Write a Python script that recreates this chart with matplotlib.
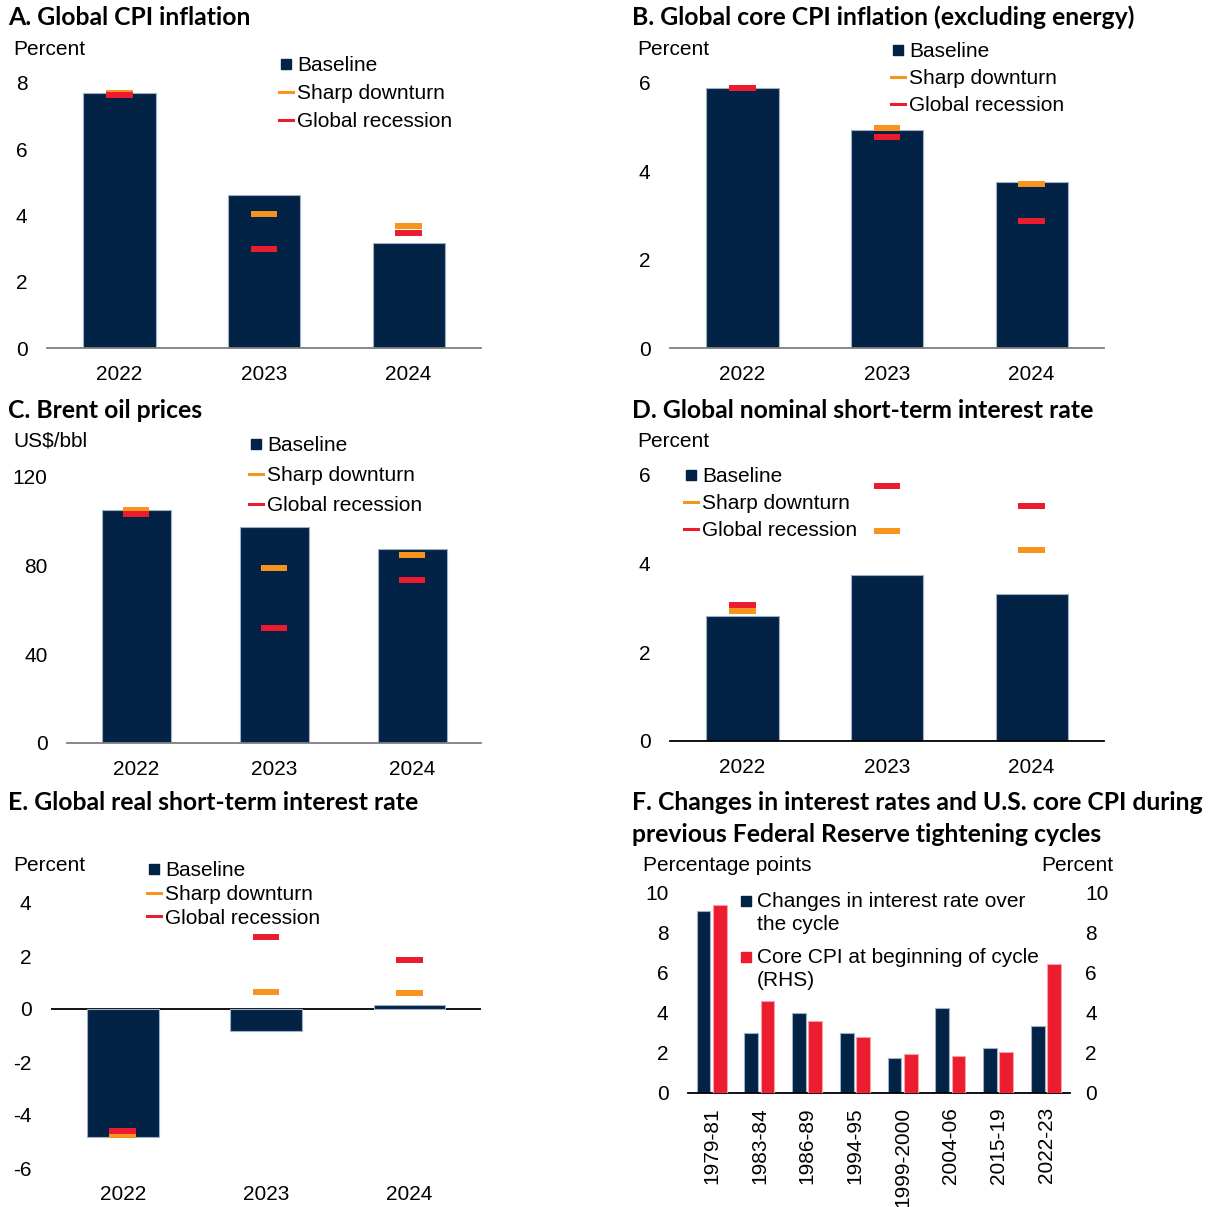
import matplotlib
matplotlib.use("Agg")
import matplotlib.pyplot as plt
import numpy as np
from matplotlib.lines import Line2D
from matplotlib.legend_handler import HandlerLine2D

plt.rcParams['font.family'] = ['Liberation Sans', 'DejaVu Sans']
plt.rcParams['font.size'] = 15
plt.rcParams['axes.unicode_minus'] = False

NAVY = '#022246'
ORANGE = '#F7941D'
RED = '#EC1C2E'
EDGE = '#9fb0c4'

W, H = 1210, 1207

#####################################
# scenario data (2022-2024)
#####################################
years = ['2022', '2023', '2024']

cpi_base = [7.69, 4.61, 3.16]
cpi_sharp = [7.70, 4.06, 3.69]
cpi_rec = [7.65, 3.00, 3.48]

core_base = [5.88, 4.94, 3.75]
core_sharp = [5.89, 4.99, 3.72]
core_rec = [5.89, 4.78, 2.88]

oil_base = [105.3, 97.6, 87.5]
oil_sharp = [105.3, 78.8, 84.7]
oil_rec = [103.3, 51.7, 73.4]

nom_base = [2.81, 3.74, 3.32]
nom_sharp = [2.94, 4.74, 4.31]
nom_rec = [3.07, 5.75, 5.30]

real_base = [-4.83, -0.84, 0.15]
real_sharp = [-4.75, 0.65, 0.62]
real_rec = [-4.59, 2.73, 1.84]

#####################################
# Fed tightening cycles
#####################################
cycles = ['1979-81', '1983-84', '1986-89', '1994-95', '1999-2000', '2004-06', '2015-19', '2022-23']
rate_change = [9.08, 3.00, 4.02, 3.00, 1.73, 4.27, 2.25, 3.35]
core_cpi_start = [9.42, 4.62, 3.58, 2.78, 1.95, 1.87, 2.07, 6.47]

fig = plt.figure(figsize=(W / 100, H / 100), dpi=100)


def px_axes(x0, x1, ytop, ybot):
    """axes placed by pixel edges (top = first tick, bottom = last tick)"""
    return fig.add_axes([x0 / W, 1 - ybot / H, (x1 - x0) / W, (ybot - ytop) / H])


def ftext(x, y, s, **kw):
    return fig.text(x / W, 1 - y / H, s, va='baseline', **kw)


def title(x, y, s):
    ftext(x, y, s, family='Lato', weight='bold', fontsize=17.8, color='black')


def style_axes(ax, spine_color='#7f7f7f'):
    for side in ['top', 'right', 'left']:
        ax.spines[side].set_visible(False)
    ax.spines['bottom'].set_color(spine_color)
    ax.spines['bottom'].set_linewidth(1.3)
    ax.tick_params(axis='both', length=0, labelsize=15)
    ax.tick_params(axis='x', pad=12.5)
    ax.tick_params(axis='y', pad=14)


def scenario_legend(ax, x, y, spacing):
    handles = [Line2D([], [], marker='s', color=NAVY, ls='None', markersize=7.9),
               Line2D([], [], color=ORANGE, lw=2.2),
               Line2D([], [], color=RED, lw=2.2)]
    leg = ax.legend(handles, ['Baseline', 'Sharp downturn', 'Global recession'],
                    loc='upper left', bbox_to_anchor=(x / W, 1 - y / H),
                    bbox_transform=fig.transFigure, frameon=False, fontsize=15,
                    handlelength=0.65, handletextpad=0.22, labelspacing=spacing,
                    borderpad=0, borderaxespad=0)
    return leg


def scenario_panel(ax, base, sharp, rec, yticks):
    x = np.arange(len(years))
    ax.bar(x, base, 0.5, color=NAVY, edgecolor=EDGE, linewidth=0.8, zorder=2)
    ax.hlines(sharp, x - 0.093, x + 0.093, colors=ORANGE, linewidth=4.3, zorder=3)
    ax.hlines(rec, x - 0.093, x + 0.093, colors=RED, linewidth=4.3, zorder=4)
    ax.set_xlim(-0.5, 2.5)
    ax.set_xticks(x)
    ax.set_xticklabels(years)
    ax.set_yticks(yticks)
    ax.set_ylim(yticks[0], yticks[-1])


class FirstLineHandler(HandlerLine2D):
    """legend marker level with the first line of a two-line label"""
    def create_artists(self, legend, orig_handle, xdescent, ydescent, width, height,
                       fontsize, trans):
        return super().create_artists(legend, orig_handle, xdescent, ydescent - 17,
                                      width, height, fontsize, trans)


# A. Global CPI inflation
axA = px_axes(47, 481, 83, 348)
scenario_panel(axA, cpi_base, cpi_sharp, cpi_rec, [0, 2, 4, 6, 8])
style_axes(axA)
scenario_legend(axA, 279, 56, 0.43)
title(8, 25, 'A. Global CPI inflation')
ftext(13, 55, 'Percent')

# B. Global core CPI inflation
axB = px_axes(670, 1104, 83, 348)
scenario_panel(axB, core_base, core_sharp, core_rec, [0, 2, 4, 6])
style_axes(axB)
scenario_legend(axB, 891, 42, 0.39)
title(632, 25, 'B. Global core CPI inflation (excluding energy)')
ftext(637, 55, 'Percent')

# C. Brent oil prices
axC = px_axes(67, 481, 477, 743)
scenario_panel(axC, oil_base, oil_sharp, oil_rec, [0, 40, 80, 120])
style_axes(axC)
scenario_legend(axC, 249, 436, 0.53)
title(8, 418, 'C. Brent oil prices')
ftext(13, 447, 'US$/bbl')

# D. Global nominal short-term interest rate
axD = px_axes(670, 1104, 475, 741)
scenario_panel(axD, nom_base, nom_sharp, nom_rec, [0, 2, 4, 6])
style_axes(axD, 'black')
scenario_legend(axD, 684, 467, 0.39)
title(632, 418, 'D. Global nominal short-term interest rate')
ftext(637, 447, 'Percent')

# E. Global real short-term interest rate
axE = px_axes(51, 481, 903, 1168)
scenario_panel(axE, real_base, real_sharp, real_rec, [-6, -4, -2, 0, 2, 4])
style_axes(axE)
axE.spines['bottom'].set_visible(False)
axE.axhline(0, color='black', lw=1.3, zorder=1)
axE.tick_params(axis='x', pad=12)
scenario_legend(axE, 147, 861, 0.23)
title(8, 810, 'E. Global real short-term interest rate')
ftext(13, 871, 'Percent')

# F. Fed tightening cycles (left: rate change, right: core CPI)
axF = px_axes(688, 1070, 893, 1093)
xc = np.arange(len(cycles))
bw = 0.29
axF.bar(xc - 0.175, rate_change, bw, color=NAVY, edgecolor=EDGE, linewidth=0.8, zorder=2)
axR = axF.twinx()
axR.set_position(axF.get_position())
axR.bar(xc + 0.165, core_cpi_start, bw, color=RED, edgecolor='#f6a0a8', linewidth=0.8, zorder=2)
for a in (axF, axR):
    a.set_ylim(0, 10)
    a.set_yticks([0, 2, 4, 6, 8, 10])
    a.set_xlim(-0.5, 7.5)
style_axes(axF, 'black')
for side in ['top', 'left', 'right', 'bottom']:
    axR.spines[side].set_visible(False)
axR.tick_params(axis='y', length=0, labelsize=15, pad=11)
axF.set_xticks(xc)
axF.set_xticklabels(cycles, rotation=90, va='top', ha='center')
axF.tick_params(axis='x', pad=10)

f_handles = [Line2D([], [], marker='s', color=NAVY, ls='None', markersize=7.9),
             Line2D([], [], marker='s', color=RED, ls='None', markersize=7.9)]
legF = axR.legend(f_handles, ['Changes in interest rate over\nthe cycle',
                              'Core CPI at beginning of cycle\n(RHS)'],
                  loc='upper left', bbox_to_anchor=(739 / W, 1 - 892 / H),
                  bbox_transform=fig.transFigure, frameon=False, fontsize=15,
                  handlelength=0.65, handletextpad=0.22, labelspacing=0.68,
                  borderpad=0, borderaxespad=0,
                  handler_map={Line2D: FirstLineHandler()})
for t in legF.get_texts():
    t.set_linespacing(1.25)

title(632, 810, 'F. Changes in interest rates and U.S. core CPI during')
title(632, 842, 'previous Federal Reserve tightening cycles')
ftext(643, 871, 'Percentage points')
ftext(1113, 871, 'Percent', ha='right')

fig.savefig('out.png', dpi=100)
